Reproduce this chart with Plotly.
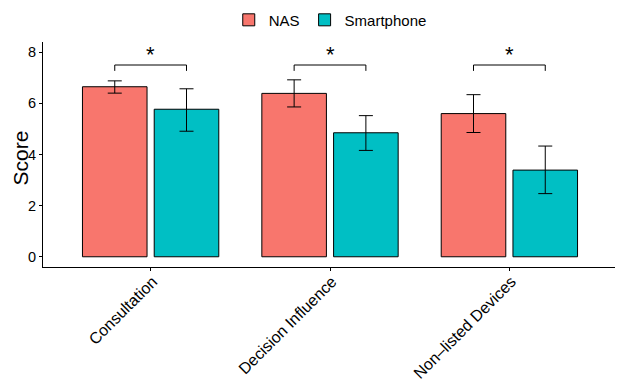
import plotly.graph_objects as go

categories = ["Consultation", "Decision Influence", "Non\u2013listed Devices"]
nas_mean = [6.65, 6.39, 5.60]
nas_lo = [6.40, 5.86, 4.86]
nas_hi = [6.88, 6.92, 6.34]
sp_mean = [5.77, 4.85, 3.39]
sp_lo = [4.91, 4.16, 2.47]
sp_hi = [6.57, 5.52, 4.33]
sig_labels = ["*", "*", "*"]
y_title = "Score"
bracket_y = 7.5
bracket_drop = 0.23
star_y = 7.35

FONT = "Liberation Sans, Arial, sans-serif"
fig = go.Figure()

def add_series(name, mean, lo, hi, color):
    fig.add_trace(go.Bar(
        name=name, x=categories, y=mean,
        marker=dict(color=color, line=dict(color="black", width=1)),
        error_y=dict(type="data", symmetric=False,
                     array=[h - m for h, m in zip(hi, mean)],
                     arrayminus=[m - l for m, l in zip(mean, lo)],
                     color="black", thickness=1, width=7),
    ))

add_series("NAS", nas_mean, nas_lo, nas_hi, "#F8766D")
add_series("Smartphone", sp_mean, sp_lo, sp_hi, "#00BFC4")

for i, lab in enumerate(sig_labels):
    x0, x1 = i - 0.2, i + 0.2
    fig.add_shape(type="path",
                  path=f"M {x0} {bracket_y - bracket_drop} L {x0} {bracket_y} L {x1} {bracket_y} L {x1} {bracket_y - bracket_drop}",
                  xref="x", yref="y", line=dict(color="black", width=1))
    fig.add_annotation(x=i, y=star_y, text=lab, showarrow=False, xref="x", yref="y",
                       yanchor="bottom", font=dict(size=22, color="black", family=FONT))

# y-axis title as a rotated annotation to the left of the tick labels
fig.add_annotation(x=0, y=0.5, xref="paper", yref="paper", text=y_title, textangle=-90,
                   showarrow=False, xanchor="center", yanchor="middle", xshift=-23, yshift=-4,
                   font=dict(size=21, color="black", family=FONT))

# page body has an 8px margin, so the figure is 8px smaller and margins shifted
fig.update_layout(
    width=615, height=377,
    barmode="group", bargap=0.2, bargroupgap=0.1,
    plot_bgcolor="white", paper_bgcolor="white",
    margin=dict(l=35, r=6, t=34, b=118, autoexpand=False),
    font=dict(family=FONT, color="black", size=14),
    legend=dict(orientation="h", x=0.524, xanchor="center", xref="container",
                y=0.968, yanchor="middle", yref="container",
                font=dict(size=15, color="black")),
    showlegend=True,
)
fig.update_xaxes(range=[-0.6, 2.6], showline=True, linecolor="black", linewidth=1,
                 ticks="outside", ticklen=3, tickcolor="black", tickangle=-45,
                 tickfont=dict(size=16, color="black"), showgrid=False, zeroline=False,
                 automargin=False, ticklabelstandoff=-5, ticklabelshift=2)
fig.update_yaxes(range=[-0.4, 8.4], tickvals=[0, 2, 4, 6, 8], showline=True, linecolor="black",
                 linewidth=1, ticks="outside", ticklen=3, tickcolor="black",
                 tickfont=dict(size=14.5, color="black"), showgrid=False, zeroline=False,
                 automargin=False)

fig.write_html("out.html")
